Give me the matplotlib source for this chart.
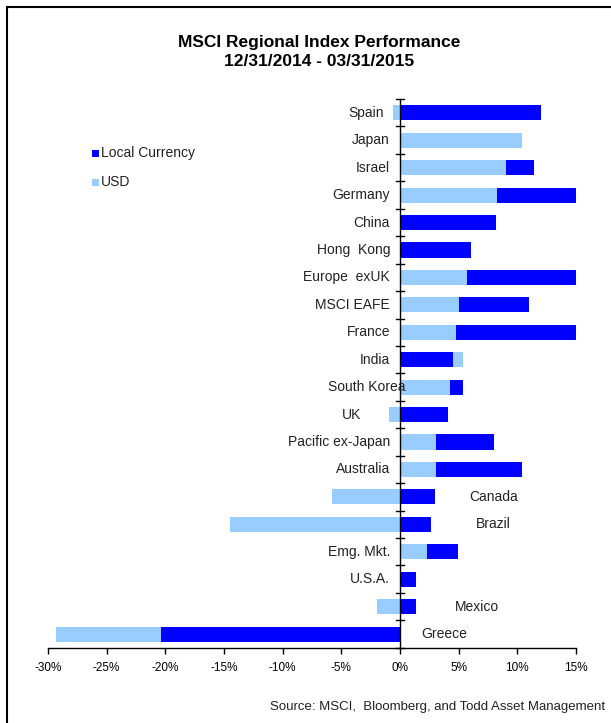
import numpy as np
import matplotlib
matplotlib.use("Agg")
import matplotlib.pyplot as plt
from matplotlib.patches import Rectangle

plt.rcParams['font.family'] = ['Liberation Sans', 'DejaVu Sans']

countries = ["Spain", "Japan", "Israel", "Germany", "China", "Hong  Kong",
             "Europe  exUK", "MSCI EAFE", "France", "India", "South Korea", "UK",
             "Pacific ex-Japan", "Australia", "Canada", "Brazil", "Emg. Mkt.",
             "U.S.A.", "Mexico", "Greece"]
# returns in %, nan = not shown
local_ccy = [12.0, np.nan, 11.45, 15.0, 8.15, 6.05, 15.0, 11.0, 15.0, 4.55,
             5.35, 4.05, 8.0, 10.4, 2.95, 2.67, 4.97, 1.4, 1.4, -20.35]
usd = [-0.57, 10.4, 9.0, 8.3, np.nan, np.nan, 5.7, 5.0, 4.8, 5.37,
       4.3, -0.9, 3.1, 3.1, -5.8, -14.5, 2.3, np.nan, -1.93, -29.3]

# label placement: right-aligned left of axis unless listed here
right_labels = {"Canada": 5.9, "Brazil": 6.5, "Mexico": 4.7, "Greece": 1.8}
label_end = {"Spain": -1.4, "South Korea": 0.45, "UK": -3.3}

dark = "#0000FF"
light = "#99CCFF"

fig = plt.figure(figsize=(6.11, 7.23), dpi=100)
ax = fig.add_axes([0.0786, 0.104, 0.8641, 0.759])

y = np.arange(len(countries))
h = 0.55
for i in range(len(countries)):
    lc, us = local_ccy[i], usd[i]
    bars = []
    if not np.isnan(lc):
        bars.append((lc, dark))
    if not np.isnan(us):
        bars.append((us, light))
    # longer bar behind, shorter in front
    bars.sort(key=lambda b: -abs(b[0]))
    for val, col in bars:
        ax.barh(y[i], val, height=h, color=col, edgecolor='none')

ax.set_xlim(-30, 15)
ax.set_ylim(len(countries) - 0.5, -0.5)
ax.set_xticks(np.arange(-30, 16, 5))
ax.set_xticklabels([f"{t}%" for t in range(-30, 16, 5)], fontsize=8.5)
ax.set_yticks([])
for s in ["top", "right", "left"]:
    ax.spines[s].set_visible(False)
ax.spines["bottom"].set_linewidth(1.0)
ax.tick_params(axis='x', direction='out', length=4, width=1, pad=6)

# vertical zero axis with crossing ticks between categories
ax.axvline(0, color='black', lw=1.0)
for b in np.arange(-0.5, len(countries), 1.0):
    ax.plot([-0.3, 0.3], [b, b], color='black', lw=1.0, clip_on=False)

for i, name in enumerate(countries):
    if name in right_labels:
        ax.text(right_labels[name], y[i], name, ha='left', va='center',
                fontsize=10, color='#222222')
    else:
        ax.text(label_end.get(name, -0.85), y[i], name, ha='right', va='center',
                fontsize=10, color='#222222')

fig.text(0.523, 1 - 52 / 723, "MSCI Regional Index Performance\n12/31/2014 - 03/31/2015",
         ha='center', va='center', fontsize=12.5, fontweight='bold', linespacing=1.25)

# legend
for yy, col, lab in [(153, dark, "Local Currency"), (182, light, "USD")]:
    fig.patches.append(Rectangle((92 / 611, 1 - (yy + 3.5) / 723), 7 / 611, 7 / 723,
                                 transform=fig.transFigure, facecolor=col, edgecolor='none'))
    fig.text(101 / 611, 1 - yy / 723, lab, fontsize=10, va='center', ha='left', color='#222222')

fig.text(0.99, 1 - 707 / 723, "Source: MSCI,  Bloomberg, and Todd Asset Management",
         ha='right', va='center', fontsize=9.5, color='#222222')

# outer frame (left and top edges visible)
fig.patches.append(Rectangle((7 / 611, -0.1), 1.2, 1.1 - 7 / 723, transform=fig.transFigure,
                             fill=False, edgecolor='black', lw=1.5))

fig.savefig("out.png", dpi=100)
